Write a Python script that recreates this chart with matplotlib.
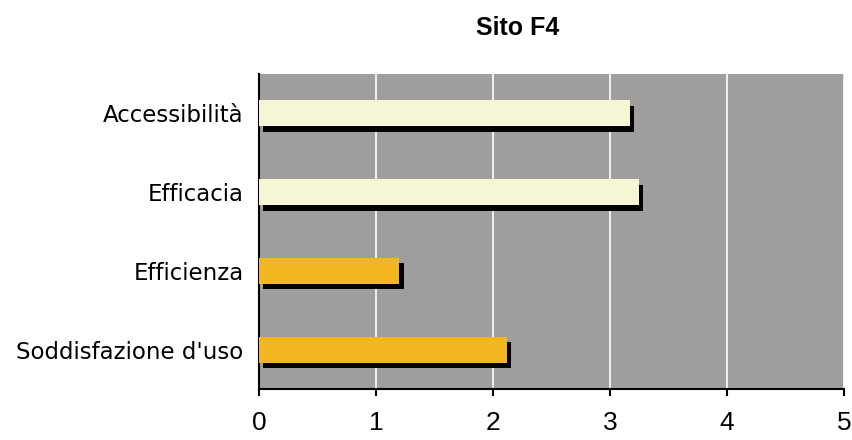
import matplotlib
matplotlib.use("Agg")
import matplotlib.pyplot as plt
import matplotlib.patheffects as pe

# Scores per criterion, top to bottom
criteri = ["Accessibilità", "Efficacia", "Efficienza", "Soddisfazione d'uso"]
punteggi = [3.17, 3.25, 1.20, 2.12]
colori = ["#F6F6D6", "#F6F6D6", "#F2B71E", "#F2B71E"]
x_ticks = [0, 1, 2, 3, 4, 5]

fig = plt.figure(figsize=(8.53, 4.40), dpi=100)
ax = fig.add_axes([259 / 853, 1 - 389 / 440, 585 / 853, 315 / 440])
ax.set_facecolor("#A09E9C")

pos = list(range(len(criteri)))[::-1]
ax.barh(
    pos,
    punteggi,
    height=0.33,
    color=colori,
    linewidth=0,
    zorder=3,
    path_effects=[
        pe.SimplePatchShadow(offset=(3, -4), shadow_rgbFace="black", alpha=1.0),
        pe.Normal(),
    ],
)

ax.set_xlim(0, 5)
ax.set_ylim(-0.5, len(criteri) - 0.5)
ax.set_xticks(x_ticks)
ax.set_xticklabels([str(t) for t in x_ticks], fontsize=19, family="Liberation Sans")
ax.set_yticks(pos)
ax.set_yticklabels(criteri, fontsize=16.5, family="DejaVu Sans")
ax.xaxis.grid(True, color="white", linewidth=1.2, zorder=1)
ax.set_axisbelow(True)

for s in ["top", "right"]:
    ax.spines[s].set_visible(False)
for s in ["left", "bottom"]:
    ax.spines[s].set_color("black")
    ax.spines[s].set_linewidth(1.5)
ax.tick_params(axis="x", length=5, width=1.5, pad=11, colors="black")
ax.tick_params(axis="y", length=0, pad=11)

fig.text(518 / 853, 1 - 28 / 440, "Sito F4", ha="center", va="center",
         fontsize=18, fontweight="bold", family="Liberation Sans")

fig.savefig("out.png", dpi=100)
